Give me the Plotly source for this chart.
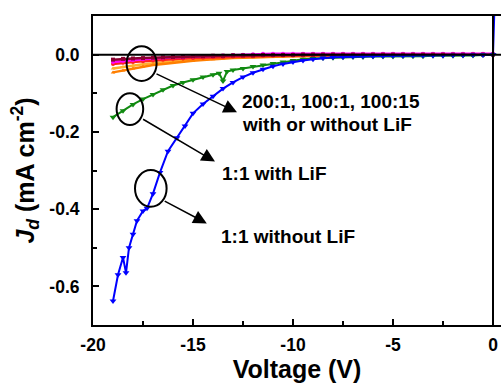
import plotly.graph_objects as go

# ---- data ----
v_blue = [-19.0, -18.75, -18.5, -18.35, -18.2, -18.0, -17.8, -17.5, -17.3, -17.0, -16.65, -16.25,
          -15.8, -15.4, -15.0, -14.5, -14.0, -13.5, -13.0, -12.5, -12.0, -11.5, -11.0, -10.5,
          -10.0, -9.5, -9.0, -8.5, -8.0, -7.5, -7.0, -6.5, -6.0, -5.5, -5.0, -4.5, -4.0, -3.5,
          -3.0, -2.5, -2.0, -1.5, -1.0, -0.5, 0.0, 0.3]
j_blue = [-0.638, -0.57, -0.525, -0.565, -0.50, -0.465, -0.43, -0.405, -0.398, -0.36, -0.305, -0.25,
          -0.215, -0.185, -0.152, -0.128, -0.108, -0.088, -0.072, -0.058, -0.047, -0.038, -0.030, -0.024,
          -0.019, -0.015, -0.012, -0.009, -0.007, -0.006, -0.005, -0.0045, -0.004, -0.0035, -0.003, -0.003, -0.0025, -0.0025,
          -0.002, -0.002, -0.0015, -0.0015, -0.001, -0.001, 0.0, 0.5]

v_green = [-19.0, -18.5, -18.0, -17.5, -17.0, -16.5, -16.0, -15.5, -15.0, -14.5, -14.0, -13.7,
           -13.5, -13.3, -13.0, -12.5, -12.0, -11.5, -11.0, -10.5, -10.0, -9.5, -9.0, -8.5,
           -8.0, -7.5, -7.0, -6.5, -6.0, -5.5, -5.0, -4.5, -4.0, -3.5, -3.0, -2.5, -2.0, -1.5,
           -1.0, -0.5, 0.0]
j_green = [-0.162, -0.145, -0.129, -0.115, -0.103, -0.091, -0.080, -0.072, -0.065, -0.058, -0.052, -0.048,
           -0.068, -0.044, -0.040, -0.036, -0.031, -0.027, -0.023, -0.019, -0.015, -0.012, -0.010, -0.009,
           -0.008, -0.007, -0.006, -0.006, -0.005, -0.005, -0.005, -0.004, -0.004, -0.004, -0.003, -0.003, -0.003, -0.002,
           -0.002, -0.001, 0.0]

v_small = [-19.0, -18.5, -18.0, -17.5, -17.0, -16.5, -16.0, -15.5, -15.0, -14.5, -14.0, -13.5,
           -13.0, -12.5, -12.0, -11.5, -11.0, -10.5, -10.0, -9.5, -9.0, -8.5, -8.0, -7.5,
           -7.0, -6.5, -6.0, -5.5, -5.0, -4.5, -4.0, -3.5, -3.0, -2.5, -2.0, -1.5, -1.0, -0.5, 0.0]
j_orange = [-0.046, -0.041, -0.036, -0.031, -0.027, -0.024, -0.021, -0.018, -0.016, -0.014, -0.012, -0.010,
            -0.009, -0.008, -0.007, -0.006, -0.005, -0.005, -0.004, -0.004, -0.003, -0.003, -0.003, -0.002,
            -0.002, -0.002, -0.002, -0.002, -0.001, -0.001, -0.001, -0.001, -0.001, -0.001, -0.001, 0.0, 0.0, 0.0, 0.0]
j_lorange = [-0.036, -0.032, -0.028, -0.025, -0.022, -0.019, -0.017, -0.015, -0.013, -0.011, -0.010, -0.009,
             -0.008, -0.007, -0.006, -0.005, -0.004, -0.004, -0.003, -0.003, -0.003, -0.002, -0.002, -0.002,
             -0.002, -0.001, -0.001, -0.001, -0.001, -0.001, 0.0, 0.0, 0.0, 0.0, 0.0, 0.0, 0.0, 0.0, 0.0]
j_red = [-0.024, -0.021, -0.019, -0.017, -0.015, -0.013, -0.011, -0.010, -0.009, -0.008, -0.007, -0.006,
         -0.005, -0.004, -0.004, -0.003, -0.003, -0.002, -0.002, -0.002, -0.001, -0.001, -0.001, -0.001,
         0.0, 0.0, 0.0, 0.0, 0.0, 0.0, 0.0, 0.0, 0.0, 0.0, 0.0, 0.0, 0.0, 0.0, 0.0]
j_magenta = [-0.019, -0.016, -0.014, -0.012, -0.010, -0.008, -0.007, -0.006, -0.005, -0.004, -0.003, -0.002,
             -0.001, 0.0, 0.001, 0.002, 0.002, 0.002, 0.002, 0.002, 0.002, 0.002, 0.002, 0.002,
             0.002, 0.002, 0.002, 0.002, 0.002, 0.002, 0.002, 0.002, 0.002, 0.002, 0.002, 0.002, 0.002, 0.002, 0.002]
j_darkred = [-0.013, -0.011, -0.010, -0.009, -0.008, -0.007, -0.006, -0.005, -0.004, -0.004, -0.003, -0.003,
             -0.002, -0.002, -0.002, -0.001, -0.001, -0.001, -0.001, 0.0, 0.0, 0.0, 0.0, 0.0,
             0.0, 0.0, 0.0, 0.0, 0.0, 0.0, 0.0, 0.0, 0.0, 0.0, 0.0, 0.0, 0.0, 0.0, 0.0]

x_ticks = [-20, -15, -10, -5, 0]
x_ticktext = ["-20", "-15", "-10", "-5", "0"]
y_ticks = [0.0, -0.2, -0.4, -0.6]
y_ticktext = ["0.0", "-0.2", "-0.4", "-0.6"]

labels = ["200:1, 100:1, 100:15", "with or without LiF", "1:1 with LiF", "1:1 without LiF"]

# ---- figure ----
fig = go.Figure()

small = [
    (j_lorange, "#FFB030", "triangle-up"),
    (j_orange, "#FF7F00", "triangle-up"),
    (j_red, "#FF2020", "circle"),
    (j_magenta, "#FF00FF", "circle"),
    (j_darkred, "#8B0030", "square"),
]
for ys, col, sym in small:
    fig.add_trace(go.Scatter(x=v_small, y=ys, mode="lines+markers",
                             line=dict(color=col, width=2.5),
                             marker=dict(color=col, symbol=sym, size=4)))

fig.add_trace(go.Scatter(x=v_green, y=j_green, mode="lines+markers",
                         line=dict(color="#118A11", width=2),
                         marker=dict(color="#118A11", symbol="triangle-down", size=6)))
fig.add_trace(go.Scatter(x=v_blue, y=j_blue, mode="lines+markers",
                         line=dict(color="#0000FF", width=2),
                         marker=dict(color="#0000FF", symbol="triangle-down", size=6)))

font_family = "Arial, 'Liberation Sans', sans-serif"

fig.update_layout(
    width=501, height=386,
    margin=dict(l=93, r=0, t=16, b=61),
    paper_bgcolor="white", plot_bgcolor="white",
    showlegend=False,
    font=dict(family=font_family, color="black"),
)

fig.update_xaxes(
    range=[-20, 0.4], tickmode="array", tickvals=x_ticks, ticktext=x_ticktext,
    ticks="inside", ticklen=6, tickwidth=2, tickcolor="black",
    minor=dict(dtick=2.5, tick0=0, ticks="inside", ticklen=4, tickwidth=2, tickcolor="black"),
    showline=True, linewidth=2, linecolor="black", mirror=True,
    showgrid=False, zeroline=False,
    tickfont=dict(size=17.5, weight="bold"), ticklabelstandoff=3,
    title=dict(text="Voltage (V)", font=dict(size=25, weight="bold"), standoff=6),
)
fig.update_yaxes(
    range=[-0.7, 0.1], tickmode="array", tickvals=y_ticks, ticktext=y_ticktext,
    ticks="inside", ticklen=6, tickwidth=2, tickcolor="black",
    minor=dict(dtick=0.1, tick0=0, ticks="inside", ticklen=4, tickwidth=2, tickcolor="black"),
    showline=True, linewidth=2, linecolor="black", mirror=False,
    showgrid=False, zeroline=False,
    tickfont=dict(size=17.5, weight="bold"), ticklabelstandoff=8,
    title=dict(text="<i>J</i><sub><i>d</i></sub> (mA cm<sup>-2</sup>)", font=dict(size=25, weight="bold"), standoff=8),
)

# zero lines drawn on top
fig.add_shape(type="line", xref="x", yref="y", x0=-20, x1=0.4, y0=0, y1=0,
              line=dict(color="black", width=2), layer="above")
fig.add_shape(type="line", xref="x", yref="paper", x0=0, x1=0, y0=0, y1=1,
              line=dict(color="black", width=2), layer="above")

# circles
circles = [(-18.32, -16.82, 0.022, -0.068), (-18.82, -17.49, -0.100, -0.182), (-17.9, -16.32, -0.299, -0.394)]
for x0, x1, y0, y1 in circles:
    fig.add_shape(type="circle", xref="x", yref="y", x0=x0, x1=x1, y0=y0, y1=y1,
                  line=dict(color="black", width=2), layer="above")

# arrows
arrows = [((-16.9, -0.048), (-12.8, -0.149)), ((-17.57, -0.165), (-13.9, -0.277)), ((-16.49, -0.377), (-14.31, -0.437))]
for (tx, ty), (hx, hy) in arrows:
    fig.add_annotation(x=hx, y=hy, ax=tx, ay=ty, xref="x", yref="y", axref="x", ayref="y",
                       text="", showarrow=True, arrowhead=2, arrowsize=1.8, arrowwidth=1.5, arrowcolor="black")

label_pos = [(-12.65, -0.122), (-12.65, -0.182), (-13.65, -0.307), (-13.7, -0.472)]
for t, (lx, ly) in zip(labels, label_pos):
    fig.add_annotation(x=lx, y=ly, xref="x", yref="y", text=t, showarrow=False,
                       xanchor="left", yanchor="middle", font=dict(size=19, weight="bold", color="black"))

fig.write_html("out.html")
